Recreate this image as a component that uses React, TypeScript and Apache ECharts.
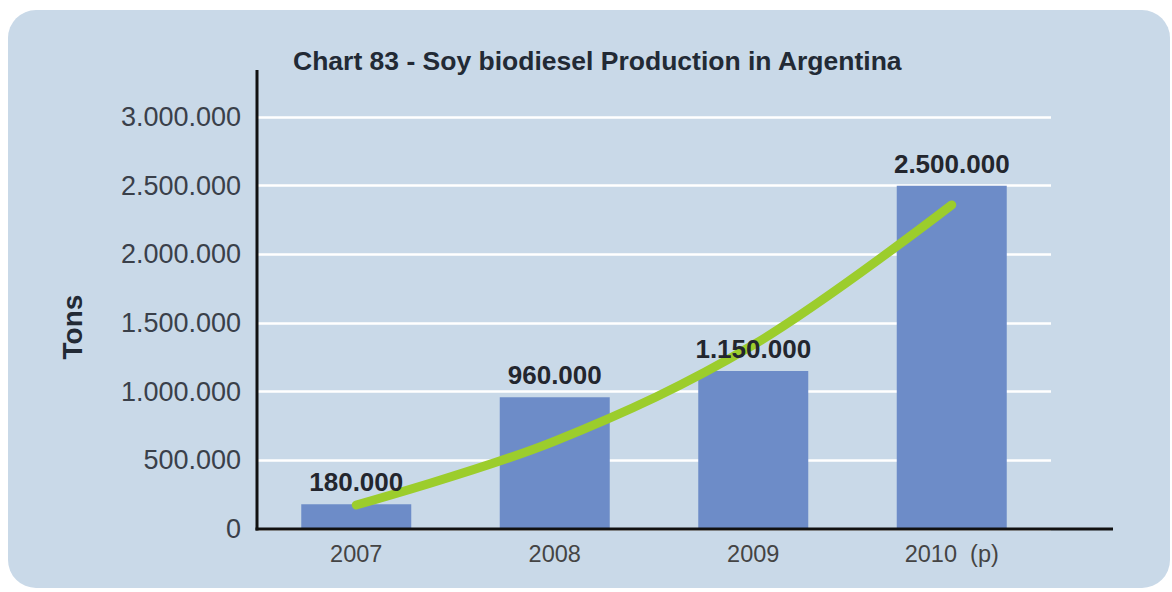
import React, { useEffect, useRef } from "react";
import * as echarts from "echarts";

const years = ["2007", "2008", "2009", "2010  (p)"];
const production = [180000, 960000, 1150000, 2500000];
const trend = [175000, 640000, 1340000, 2360000];
const yTicks = { min: 0, max: 3000000, interval: 500000 };
const titleText = "Chart 83 - Soy biodiesel Production in Argentina";
const yName = "Tons";

const FONT = "'Liberation Sans', Arial, Helvetica, sans-serif";

function fmt(v: number): string {
  return String(Math.round(v)).replace(/\B(?=(\d{3})+(?!\d))/g, ".");
}

export default function App() {
  const ref = useRef<HTMLDivElement>(null);
  useEffect(() => {
    if (!ref.current) return;
    const chart = echarts.init(ref.current, null, { renderer: "svg" });
    chart.setOption({
      animation: false,
      backgroundColor: "#ffffff",
      title: {
        text: titleText,
        left: 288,
        top: 42,
        textStyle: { fontFamily: FONT, fontSize: 26.5, fontWeight: "bold", color: "#222a35" },
      },
      graphic: [
        {
          type: "rect",
          z: -10,
          silent: true,
          shape: { x: 8, y: 10, width: 1162, height: 578, r: 28 },
          style: { fill: "#c9d9e8" },
        },
        {
          type: "line",
          z: 10,
          silent: true,
          shape: { x1: 257, y1: 70, x2: 257, y2: 530.5 },
          style: { stroke: "#111111", lineWidth: 3 },
        },
        {
          type: "line",
          z: 10,
          silent: true,
          shape: { x1: 255.5, y1: 529, x2: 1113, y2: 529 },
          style: { stroke: "#111111", lineWidth: 3 },
        },
        {
          type: "text",
          z: 10,
          x: 72,
          y: 327,
          rotation: Math.PI / 2,
          style: {
            text: yName,
            align: "center",
            verticalAlign: "middle",
            fontFamily: FONT,
            fontSize: 28,
            fontWeight: "bold",
            fill: "#222a35",
          },
        },
      ],
      grid: { left: 257, right: 121, top: 117, bottom: 63, containLabel: false },
      xAxis: {
        type: "category",
        data: years,
        axisLine: { show: false },
        axisTick: { show: false },
        axisLabel: { margin: 13, fontFamily: FONT, fontSize: 23.5, color: "#444444" },
        splitLine: { show: false },
      },
      yAxis: {
        type: "value",
        min: yTicks.min,
        max: yTicks.max,
        interval: yTicks.interval,
        axisLine: { show: false },
        axisTick: { show: false },
        axisLabel: {
          margin: 16,
          fontFamily: FONT,
          fontSize: 27,
          color: "#3a404a",
          formatter: (v: number) => fmt(v),
        },
        splitLine: { show: true, lineStyle: { color: "#ffffff", width: 2.5 } },
      },
      series: [
        {
          type: "bar",
          data: production,
          barWidth: 110,
          z: 2,
          itemStyle: { color: "#6d8cc8" },
        },
        {
          type: "line",
          data: trend,
          smooth: 0.35,
          symbol: "none",
          z: 3,
          lineStyle: { color: "#9ccd2c", width: 9, cap: "round" },
        },
        {
          type: "bar",
          data: production,
          barWidth: 110,
          barGap: "-100%",
          z: 4,
          itemStyle: { color: "rgba(0,0,0,0)" },
          label: {
            show: true,
            position: "top",
            distance: 9,
            fontFamily: FONT,
            fontSize: 26,
            fontWeight: "bold",
            color: "#23262e",
            formatter: (p: any) => fmt(p.value),
          },
        },
      ],
    });
    return () => chart.dispose();
  }, []);
  return (
    <div
      ref={ref}
      style={{ position: "absolute", left: 0, top: 0, width: 1172, height: 592 }}
    />
  );
}
